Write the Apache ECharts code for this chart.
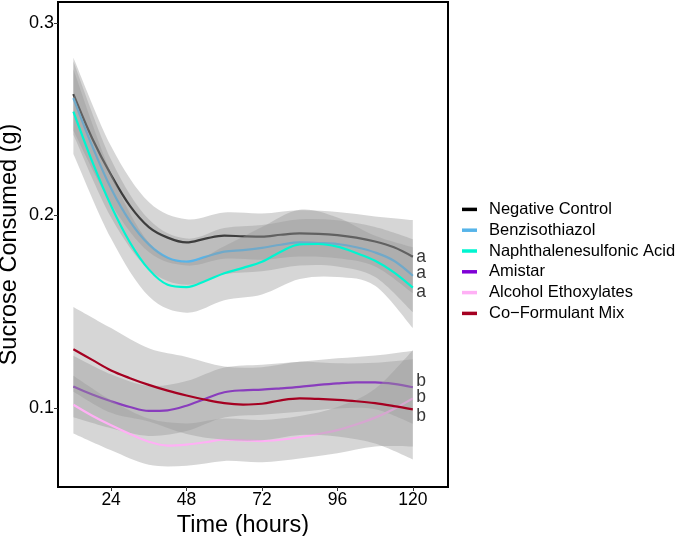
<!DOCTYPE html>
<html>
<head>
<meta charset="utf-8">
<script src="https://cdn.jsdelivr.net/npm/echarts@6/dist/echarts.min.js"></script>
<style>html,body{margin:0;padding:0;background:#fff}#c{width:685px;height:536px}</style>
</head>
<body>
<div id="c"></div>
<script>
// ---- data ----
const hours = [12,18,24,30,36,42,48,54,60,66,72,78,84,90,96,102,108,114,120];
const negativeControl = [.263,.240,.221,.205,.194,.1885,.186,.188,.1895,.1892,.189,.190,.1907,.1905,.1898,.1885,.1865,.1835,.1786];
const benzisothiazol = [.261,.236,.214,.197,.185,.178,.176,.1785,.1812,.182,.1832,.1848,.186,.1857,.1852,.1835,.1808,.1765,.1687];
const naphthalenesulfonic = [.254,.228,.205,.186,.172,.164,.1628,.166,.170,.1728,.176,.1812,.185,.1852,.1838,.1805,.1765,.1705,.1625];
const amistar = [.1112,.107,.1035,.1005,.0985,.0988,.1012,.1048,.1082,.1092,.1095,.1102,.111,.112,.1128,.1133,.1133,.1125,.1108];
const alcoholEthoxylates = [.1017,.096,.091,.0865,.0825,.0805,.081,.0822,.0835,.0832,.0828,.0835,.0848,.0865,.0885,.0915,.095,.0995,.105];
const coFormulantMix = [.1305,.125,.1195,.1155,.112,.109,.1065,.1043,.1025,.1018,.1022,.104,.105,.1047,.1042,.1035,.1025,.101,.0993];

const bandHours = [12,24,36,48,60,72,84,96,108,120];
const negLower = [.244,.206,.181,.174,.1775,.177,.1787,.1778,.1735,.1596];
const negUpper = [.282,.236,.207,.198,.2015,.201,.2027,.2018,.1995,.1976];
const benzLower = [.242,.199,.172,.164,.1695,.171,.174,.1735,.168,.1497];
const benzUpper = [.280,.229,.198,.188,.1935,.195,.198,.1975,.194,.1877];
const naphLower = [.232,.188,.158,.1495,.156,.159,.167,.168,.1635,.1415];
const naphUpper = [.276,.222,.186,.1755,.184,.194,.203,.199,.1895,.1835];
const amiLower = [.0952,.0895,.0855,.088,.095,.0965,.098,.0998,.0993,.0918];
const amiUpper = [.1272,.1175,.1115,.114,.121,.1225,.124,.1258,.1273,.1298];
const alcLower = [.0867,.078,.0705,.070,.0725,.0718,.0738,.0765,.080,.080];
const alcUpper = [.1167,.104,.0945,.092,.0945,.0938,.0958,.1005,.110,.130];
const coLower = [.1085,.0975,.093,.0865,.0835,.0832,.086,.0852,.0815,.0733];
const coUpper = [.1525,.1415,.131,.1265,.1215,.1212,.124,.1232,.1235,.1253];

const seriesNames = ['Negative Control','Benzisothiazol','Naphthalenesulfonic Acid','Amistar','Alcohol Ethoxylates','Co\u2212Formulant Mix'];
const seriesColors = ['#000000','#56B4E9','#00F5D0','#7F00D6','#FFB0F5','#A50021'];

const letterText = ['a','a','a','b','b','b'];
const letterX = [120,120,120,120,120,120];
const letterY = [.1786,.170,.1604,.1137,.1055,.0955];

const xTicks = [24,48,72,96,120];
const yTicks = [0.1,0.2,0.3];

// ---- build ----
const lines = [negativeControl,benzisothiazol,naphthalenesulfonic,amistar,alcoholEthoxylates,coFormulantMix];
const lowers = [negLower,benzLower,naphLower,amiLower,alcLower,coLower];
const uppers = [negUpper,benzUpper,naphUpper,amiUpper,alcUpper,coUpper];

function curveThrough(pts){
  let d = '';
  const n = pts.length;
  for (let k=0;k<n-1;k++){
    const p0 = pts[Math.max(k-1,0)], p1 = pts[k], p2 = pts[k+1], p3 = pts[Math.min(k+2,n-1)];
    const c1 = [p1[0]+(p2[0]-p0[0])/6, p1[1]+(p2[1]-p0[1])/6];
    const c2 = [p2[0]-(p3[0]-p1[0])/6, p2[1]-(p3[1]-p1[1])/6];
    d += 'C'+c1[0]+' '+c1[1]+' '+c2[0]+' '+c2[1]+' '+p2[0]+' '+p2[1];
  }
  return d;
}

function bandSeries(i){
  return {
    type:'custom', name:'_band'+i, silent:true, clip:true, z:2+2*i,
    data:[[bandHours[0], lowers[i][0]]],
    renderItem:(params, api)=>{
      const up = bandHours.map((h,k)=>api.coord([h, uppers[i][k]]));
      const lo = bandHours.map((h,k)=>api.coord([h, lowers[i][k]])).reverse();
      const d = 'M'+up[0][0]+' '+up[0][1]+curveThrough(up)+'L'+lo[0][0]+' '+lo[0][1]+curveThrough(lo)+'Z';
      return {type:'path', shape:{pathData:d}, style:{fill:'rgba(153,153,153,0.4)', stroke:null}};
    }
  };
}

const series = [];
lines.forEach((vals,i)=>{
  series.push(bandSeries(i));
  series.push({
    type:'line', name:seriesNames[i], color:seriesColors[i], smooth:0.35, symbol:'none', z:3+2*i,
    lineStyle:{width:2.2,color:seriesColors[i]}, data: hours.map((h,k)=>[h,vals[k]])
  });
});
series.push({
  type:'scatter', name:'_letters', symbolSize:1, itemStyle:{color:'rgba(0,0,0,0)'}, silent:true, z:20,
  data: letterX.map((x,k)=>[x,letterY[k]]),
  label:{show:true, position:'right', distance:3, fontSize:17.5, color:'#000',
    fontFamily:'Liberation Sans', formatter:p=>letterText[p.dataIndex]}
});

const chart = echarts.init(document.getElementById('c'), null, {renderer:'canvas'});
chart.setOption({
  animation:false,
  backgroundColor:'#fff',
  grid:{left:58,right:237,top:2,bottom:49,show:true,borderColor:'#000',borderWidth:2,
    backgroundColor:'transparent',outerBoundsMode:'none',containLabel:false},
  xAxis:{type:'value',min:7.1,max:131.2,
    name:'Time (hours)',nameLocation:'middle',nameGap:22,
    nameTextStyle:{fontSize:23.5,color:'#000',fontFamily:'Liberation Sans',padding:[0,20,0,0]},
    axisLine:{show:false},splitLine:{show:false},
    axisTick:{show:true,length:4,lineStyle:{color:'#333'},customValues:xTicks},
    axisLabel:{fontSize:17.5,color:'#000',margin:4,fontFamily:'Liberation Sans',customValues:xTicks}
  },
  yAxis:{type:'value',min:0.05896,max:0.3109,
    name:'Sucrose Consumed (g)',nameLocation:'middle',nameRotate:90,nameGap:36,nameMoveOverlap:false,
    nameTextStyle:{fontSize:23.5,color:'#000',fontFamily:'Liberation Sans'},
    axisLine:{show:false},splitLine:{show:false},
    axisTick:{show:true,length:4,lineStyle:{color:'#333'},customValues:yTicks},
    axisLabel:{fontSize:18,color:'#000',margin:4,fontFamily:'Liberation Sans',customValues:yTicks,
      formatter:v=>v.toFixed(1)}
  },
  legend:{orient:'vertical',left:457,top:194,itemWidth:15,itemHeight:3.5,itemGap:0,icon:'rect',
    selectedMode:false,data:seriesNames,
    textStyle:{fontSize:16.5,color:'#000',fontFamily:'Liberation Sans',lineHeight:20.8,padding:[0,0,0,7]}},
  series:series
});
</script>
</body>
</html>
